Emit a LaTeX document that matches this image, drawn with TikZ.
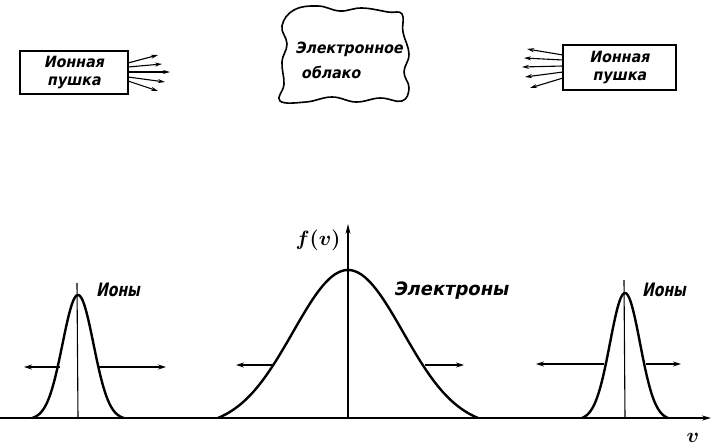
\documentclass[tikz,border=0pt]{standalone}
\usepackage{fontspec}
\newfontfamily\labA{DejaVu Sans Bold}[FakeSlant=0.2, FakeStretch=0.92]
\newfontfamily\labB{DejaVu Sans Bold}[FakeSlant=0.2, FakeStretch=0.76]
\newfontfamily\labC{DejaVu Sans Bold}[FakeSlant=0.2, FakeStretch=0.97]
\usetikzlibrary{arrows.meta}
\begin{document}
\begin{tikzpicture}[x=1pt,y=-1pt,
  gunbox/.style={draw, line width=1.8pt, minimum width=#1, inner sep=0pt, align=center},
  toplab/.style={font=\labA\fontsize{15.5}{18.5}\selectfont, align=center, inner sep=0pt},
  botlab/.style={font=\labB\fontsize{18.5}{20}\selectfont, inner sep=0pt},
  fan/.style={line width=1.1pt, -{Stealth[length=7pt,width=4pt]}},
  side/.style={line width=1.1pt, -{Stealth[length=8pt,width=5pt]}},
  curve/.style={line width=2.4pt, line join=round},
  axis/.style={line width=1.2pt},
  thin/.style={line width=1.1pt}]
\useasboundingbox (0,0) rectangle (712,447);
% ion guns
\node[gunbox=108pt, minimum height=43pt, toplab] (lgun) at (74,72.5) {Ионная\\пушка};
\node[gunbox=113pt, minimum height=45pt, toplab] (rgun) at (619.5,67.5) {Ионная\\пушка};
% left fan
\coordinate (l1) at (158,55); \coordinate (l2) at (162,64); \coordinate (l3) at (170,72);
\coordinate (l4) at (165,82); \coordinate (l5) at (158,91);
\draw[fan] (128,63) -- (l1);
\draw[fan] (128,67) -- (l2);
\draw[fan] (128,72) -- (l3);
\draw[fan] (128,77) -- (l4);
\draw[fan] (128,81) -- (l5);
% right fan
\coordinate (r1) at (527,49); \coordinate (r2) at (524,58); \coordinate (r3) at (522,67);
\coordinate (r4) at (525,77); \coordinate (r5) at (530,88);
\draw[fan] (563,55) -- (r1);
\draw[fan] (563,60) -- (r2);
\draw[fan] (563,66) -- (r3);
\draw[fan] (563,72) -- (r4);
\draw[fan] (563,78) -- (r5);
% cloud
\draw[line width=1.6pt] plot[smooth cycle, tension=0.7] coordinates {
 (294,10) (318,6) (340,11) (362,8) (388,12) (402,14)
 (403,32) (409,54) (404,72) (409,88) (402,101)
 (380,98) (356,102) (332,97) (306,102) (280,101)
 (284,84) (282,62) (287,44) (282,26)};
\node[toplab, align=left, font=\labA\fontsize{15.5}{25}\selectfont] (cloud) at (349,60) {Электронное\\\hspace*{6pt}облако};
% horizontal axis
\coordinate (ax0) at (0,418); \coordinate (ax1) at (711,418);
\draw[axis, -{Stealth[length=9pt,width=5pt]}] (ax0) -- (ax1);
\node[font=\boldmath\fontsize{20}{20}\selectfont, inner sep=0pt] (vlab) at (693,438) {$v$};
% central axis
\coordinate (c0) at (348,418); \coordinate (c1) at (348,224);
\draw[axis, -{Stealth[length=10pt,width=5pt]}] (c0) -- (c1);
\node[font=\boldmath\fontsize{20}{20}\selectfont] (flab) at (318,240) {$f(v)$};
% electron curve
\draw[curve] plot[domain=-130:130, samples=121] ({348+\x}, {418-148*(exp(-0.5*(\x/55)^2)-0.0610)/0.939});
% left ions
\coordinate (li0) at (78,418); \coordinate (li1) at (77,283);
\draw[thin] (li0) -- (li1);
\draw[curve] plot[domain=-46:46, samples=81] ({78+\x}, {418-123*(exp(-0.5*(\x/15.5)^2)-0.0122)/0.9878});
% right ions
\coordinate (ri0) at (625,418); \coordinate (ri1) at (624,280);
\draw[thin] (ri0) -- (ri1);
\draw[curve] plot[domain=-43:43, samples=81] ({625+\x}, {418-125*(exp(-0.5*(\x/15)^2)-0.0163)/0.9837});
% side arrows
\coordinate (a1s) at (60,367); \coordinate (a1e) at (24,367);
\coordinate (a2s) at (98,367); \coordinate (a2e) at (166,367);
\coordinate (a3s) at (272,365); \coordinate (a3e) at (236,365);
\coordinate (a4s) at (425,365); \coordinate (a4e) at (464,365);
\coordinate (a5s) at (604,364); \coordinate (a5e) at (536,364);
\coordinate (a6s) at (646,364); \coordinate (a6e) at (681,364);
\draw[side] (a1s) -- (a1e);
\draw[side] (a2s) -- (a2e);
\draw[side] (a3s) -- (a3e);
\draw[side] (a4s) -- (a4e);
\draw[side] (a5s) -- (a5e);
\draw[side] (a6s) -- (a6e);
% labels
\node[botlab] (ionL) at (118,290) {Ионы};
\node[botlab] (ionR) at (664,290) {Ионы};
\node[botlab, font=\labC\fontsize{18.5}{20}\selectfont] (elec) at (451,291) {Электроны};
\end{tikzpicture}
\end{document}
